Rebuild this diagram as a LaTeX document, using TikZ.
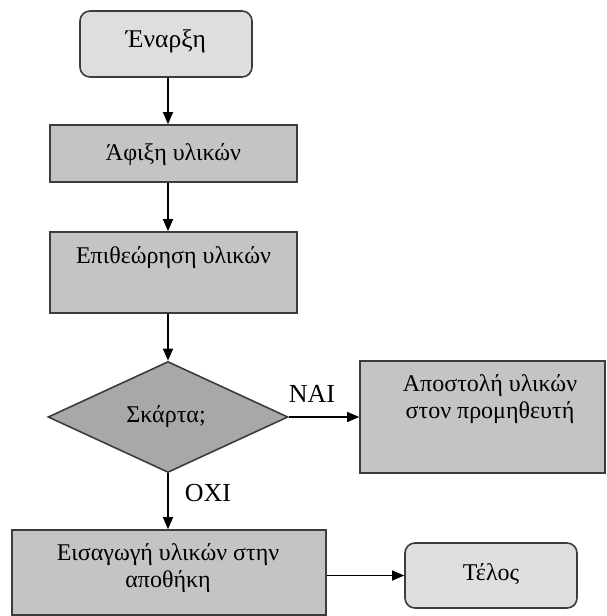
\documentclass[tikz,border=0pt]{standalone}
\usepackage{fontspec}
\setmainfont{Liberation Serif}
\usetikzlibrary{shapes.geometric,arrows.meta}

\definecolor{edgegray}{HTML}{3C3C3C}
\definecolor{termfill}{HTML}{DEDEDE}
\definecolor{procfill}{HTML}{C4C4C4}
\definecolor{decfill}{HTML}{A8A8A8}

\tikzset{
	txt/.style={font=\fontsize{24}{27}\selectfont, inner sep=0pt, align=center},
	lbl/.style={font=\fontsize{26}{30}\selectfont, inner sep=0pt},
	termbox/.style={draw=edgegray, line width=1.6pt, fill=termfill, rounded corners=10pt},
	procbox/.style={draw=edgegray, line width=1.6pt, fill=procfill},
	decbox/.style={diamond, aspect=2.2, draw=edgegray, line width=1.6pt, fill=decfill, inner sep=0pt},
	flow/.style={line width=1.3pt, -{Triangle[length=12pt,width=10pt]}}
}

\begin{document}
\begin{tikzpicture}[x=1pt,y=-1pt]
	\useasboundingbox (0,0) rectangle (607,616);
	
	% boxes
	\node[termbox, minimum width=172pt, minimum height=66pt] (start) at (166,44) {};
	\node[procbox, minimum width=247pt, minimum height=57pt] (afixi) at (173.5,153.5) {};
	\node[procbox, minimum width=247pt, minimum height=81pt] (epith) at (173.5,272.5) {};
	\node[decbox, minimum width=240pt, minimum height=111pt] (check) at (168,417) {};
	\node[procbox, minimum width=245pt, minimum height=112pt] (supp) at (482.5,417) {};
	\node[procbox, minimum width=314pt, minimum height=85pt] (store) at (169,572.5) {};
	\node[termbox, minimum width=172pt, minimum height=65pt] (end) at (491,575.5) {};
	
	% texts (base = last line)
	\node[txt, anchor=base, font=\fontsize{25.5}{28}\selectfont] (starttxt) at (166,47) {Έναρξη};
	\node[txt, anchor=base] (afixitxt) at (173.5,160) {Άφιξη υλικών};
	\node[txt, anchor=base] (epithtxt) at (173.5,263) {Επιθεώρηση υλικών};
	\node[txt, anchor=base] (checktxt) at (166,422) {Σκάρτα;};
	\node[txt, anchor=base] (supptxt) at (490,418) {Αποστολή υλικών\\στον προμηθευτή};
	\node[txt, anchor=base] (storetxt) at (168,587) {Εισαγωγή υλικών στην\\αποθήκη};
	\node[txt, anchor=base] (endtxt) at (491,580) {Τέλος};
	\node[lbl, anchor=base] (yes) at (312,402) {ΝΑΙ};
	\node[lbl, anchor=base] (no) at (208,501) {ΟΧΙ};
	
	% connectors
	\draw[flow] (start.south -| check) -- (afixi.north -| check);
	\draw[flow] (afixi.south -| check) -- (epith.north -| check);
	\draw[flow] (epith.south -| check) -- (check.north);
	\draw[flow] (check.east) -- (supp.west);			%yes branch
	\draw[flow] (check.south) -- (store.north -| check);	%no branch
	\draw[flow] (store.east |- end) -- (end.west);
\end{tikzpicture}
\end{document}
